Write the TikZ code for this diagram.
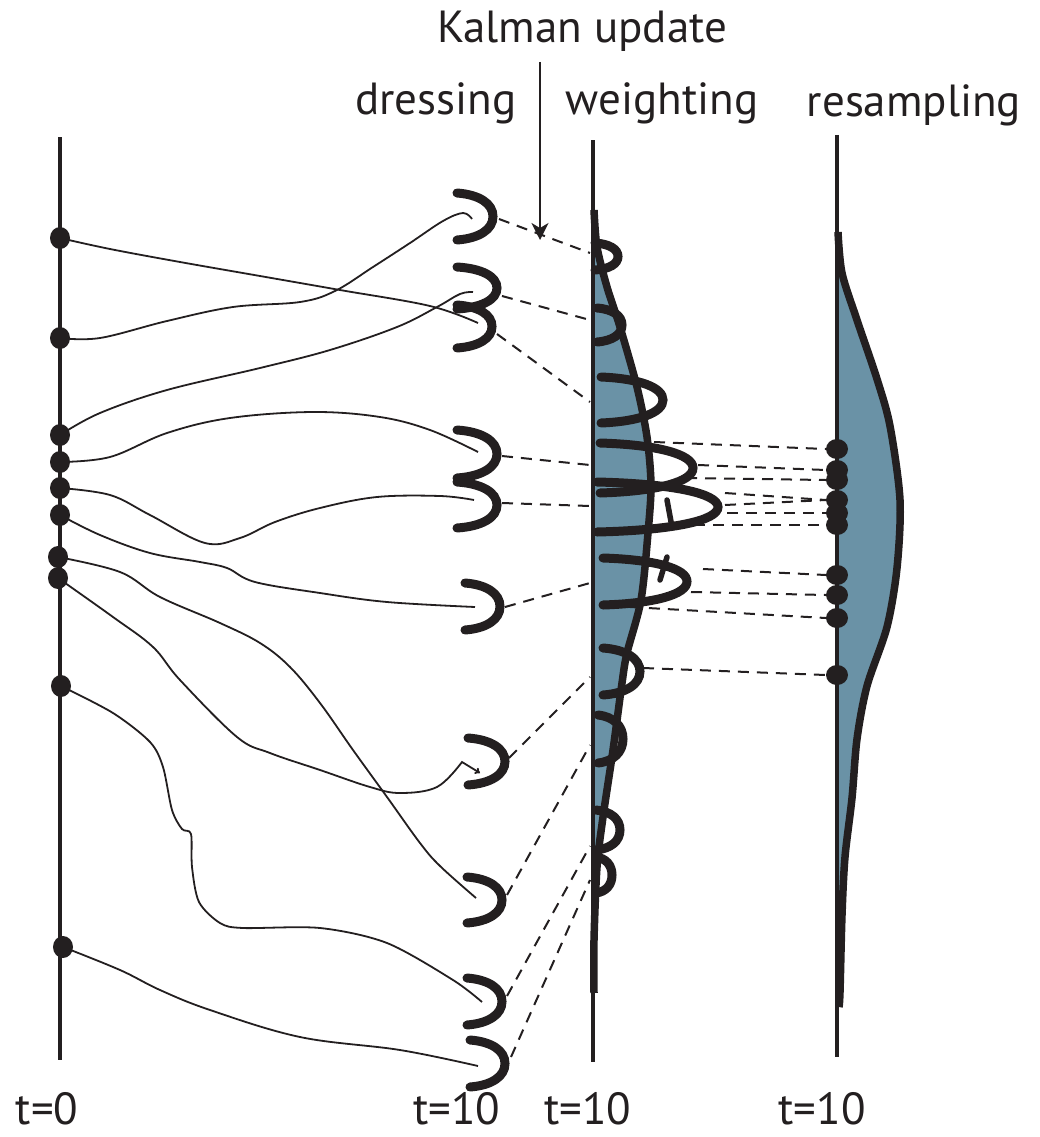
\documentclass[tikz,border=0pt]{standalone}
\usepackage{fontspec}
\setmainfont{PT Sans}
\usetikzlibrary{arrows.meta,shapes.geometric}
\definecolor{ink}{RGB}{35,31,32}
\definecolor{densc}{RGB}{106,146,166}
\begin{document}
\begin{tikzpicture}[x=1pt,y=-1pt,
  axisline/.style={draw=ink,line width=4.5pt},
  traj/.style={draw=ink,line width=1.8pt},
  kern/.style={draw=ink,line width=2pt,dash pattern=on 11pt off 8pt},
  hookline/.style={draw=ink,line width=9pt,line cap=round},
  curveline/.style={draw=ink,line width=7.5pt,line join=round},
  densfill/.style={fill=densc},
  dot/.style={ellipse,fill=ink,inner sep=0pt,minimum width=20pt,minimum height=22pt},
  rdot/.style={ellipse,fill=ink,inner sep=0pt,minimum width=22pt,minimum height=20pt},
  lbl/.style={font=\fontsize{45}{50}\selectfont,text=ink,inner sep=0pt,anchor=base},
  hk/.pic={\draw[hookline] (0,-1) .. controls (0.62,-0.93) and (1,-0.55) .. (1,0) .. controls (1,0.55) and (0.62,0.93) .. (0,1);}
]
\useasboundingbox (0,0) rectangle (1040,1137);

% ---------- labels
\node[lbl] (kal) at (582,43) {Kalman update};
\node[lbl] (dress) at (436,115) {dressing};
\node[lbl] (weight) at (662,115) {weighting};
\node[lbl] (resamp) at (914,117) {resampling};
\node[lbl] (t0) at (47,1124) {t=0};
\node[lbl] (t10a) at (457,1124) {t=10};
\node[lbl] (t10b) at (588,1124) {t=10};
\node[lbl] (t10c) at (822,1124) {t=10};

% ---------- densities
\path[densfill] (593,210) -- plot[smooth] coordinates {(594,210) (597,247) (607,287) (620,327) (637,387) (647,437) (651,485) (648,533) (641,600) (627,653) (622,683) (613,750) (603,817) (597,867) (594,940) (594,993)} -- (593,993) -- cycle;
\path[densfill] (837,232) -- plot[smooth] coordinates {(838,232) (842,273) (857,320) (877,379) (890,426) (900,500) (897,568) (887,627) (867,686) (857,739) (852,798) (845,857) (842,915) (840,992) (839,1007)} -- (837,1007) -- cycle;

% ---------- axes
\draw[axisline] (60,137) -- (60,1060);
\draw[axisline] (593,140) -- (593,1062);
\draw[axisline] (837,135) -- (837,1057);

% ---------- density outlines
\draw[curveline] plot[smooth] coordinates {(594,210) (597,247) (607,287) (620,327) (637,387) (647,437) (651,485) (648,533) (641,600) (627,653) (622,683) (613,750) (603,817) (597,867) (594,940) (594,993)};
\draw[curveline] plot[smooth] coordinates {(838,232) (842,273) (857,320) (877,379) (890,426) (900,500) (897,568) (887,627) (867,686) (857,739) (852,798) (845,857) (842,915) (840,992) (839,1007)};

% ---------- Kalman arrow
\coordinate (kA) at (540,62);
\coordinate (kB) at (540,240);
\draw[draw=ink,line width=1.6pt,-{Stealth[length=17pt,width=17pt,inset=5pt]}] (kA) -- (kB);

% ---------- dressing hooks
\pic[xscale=36,yscale=23.5] at (457,216.5) {hk};
\pic[xscale=40,yscale=21] at (457,288) {hk};
\pic[xscale=35,yscale=21.5] at (457,326.5) {hk};
\pic[xscale=40,yscale=24] at (457,454) {hk};
\pic[xscale=40,yscale=23] at (457,505) {hk};
\pic[xscale=35,yscale=23.5] at (465,606.5) {hk};
\pic[xscale=37,yscale=23.5] at (468,761.5) {hk};
\pic[xscale=35,yscale=23] at (467,900) {hk};
\pic[xscale=35,yscale=23.5] at (467,1001.5) {hk};
\pic[xscale=35,yscale=23.5] at (470,1063.5) {hk};

% ---------- weighted hooks
\pic[xscale=23,yscale=13.5] at (595,256.5) {hk};
\pic[xscale=25,yscale=17] at (597,325) {hk};
\pic[xscale=62,yscale=23] at (601,400) {hk};
\pic[xscale=93,yscale=25] at (600,468) {hk};
\pic[xscale=121,yscale=25] at (597,507) {hk};
\pic[xscale=84,yscale=23.5] at (603,581.5) {hk};
\pic[xscale=37,yscale=23.5] at (603,671.5) {hk};
\pic[xscale=25,yscale=24] at (598,739) {hk};
\pic[xscale=24,yscale=20] at (596,830) {hk};
\pic[xscale=16,yscale=18] at (596,875) {hk};
\draw[hookline,line width=5.5pt] (667,500) -- (672,527);
\draw[hookline,line width=5.5pt] (667,557) -- (660,580);

% ---------- dashed: dressing -> weighting
\coordinate (h1) at (499,219);  \coordinate (w1) at (590,253);
\coordinate (h2) at (502,296);  \coordinate (w2) at (590,320);
\coordinate (h3) at (497,334);  \coordinate (w3) at (590,402);
\coordinate (hA) at (502,456);  \coordinate (w4) at (590,465);
\coordinate (hB) at (502,503);  \coordinate (w5) at (590,506);
\coordinate (hC) at (505,607);  \coordinate (w6) at (590,583);
\coordinate (hD) at (509,758);  \coordinate (w7) at (590,677);
\coordinate (hE) at (507,895);  \coordinate (w8) at (590,745);
\coordinate (hF) at (507,996);  \coordinate (w9) at (590,846);
\coordinate (hG) at (511,1057); \coordinate (w10) at (590,880);
\foreach \a/\b in {h1/w1,h2/w2,h3/w3,hA/w4,hB/w5,hC/w6,hD/w7,hE/w8,hF/w9,hG/w10}
  \draw[kern] (\a) -- (\b);

% ---------- resampled particles
\node[rdot] (r1) at (837,449) {};
\node[rdot] (r2) at (837,470) {};
\node[rdot] (r3) at (837,480) {};
\node[rdot] (r4) at (837,500) {};
\node[rdot] (r5) at (837,513) {};
\node[rdot] (r6) at (837,525) {};
\node[rdot] (r7) at (837,575) {};
\node[rdot] (r8) at (837,595) {};
\node[rdot] (r9) at (837,618) {};
\node[rdot] (r10) at (837,675) {};

% ---------- dashed: weighting -> resampling
\coordinate (s1) at (654,442);
\coordinate (s2) at (698,465);
\coordinate (s3) at (686,478);
\coordinate (s4) at (725,493);
\coordinate (s5) at (725,505);
\coordinate (s6) at (708,513);
\coordinate (s7) at (675,525);
\coordinate (s8) at (703,569);
\coordinate (s9) at (691,592);
\coordinate (s10) at (630,607);
\coordinate (s11) at (643,668);
\foreach \a/\b in {s1/r1,s2/r2,s3/r3,s4/r4,s5/r4,s6/r5,s7/r6,s8/r7,s9/r8,s10/r9,s11/r10}
  \draw[kern] (\a) -- (\b.west);

% ---------- initial particles
\node[dot] (p1) at (60,238) {};
\node[dot] (p2) at (60,338) {};
\node[dot] (p3) at (60,435) {};
\node[dot] (p4) at (60,462) {};
\node[dot] (p5) at (60,488) {};
\node[dot] (p6) at (60,515) {};
\node[dot] (p7) at (58,557) {};
\node[dot] (p8) at (58,578) {};
\node[dot] (p9) at (61,686) {};
\node[dot] (p10) at (63,947) {};

% ---------- trajectories
\draw[traj] plot[smooth,tension=0.6] coordinates {(p1) (110,249) (180,262) (260,276) (340,290) (430,306) (478,323)};
\draw[traj] plot[smooth,tension=0.6] coordinates {(p2) (100,338) (167,321) (233,307) (300,302) (335,291) (373,267) (410,243) (443,221) (463,213) (472,219)};
\draw[traj] plot[smooth,tension=0.6] coordinates {(p3) (100,413) (167,390) (260,368) (330,350) (397,327) (437,307) (460,294) (473,292)};
\draw[traj] plot[smooth,tension=0.6] coordinates {(p4) (110,457) (167,433) (230,418) (313,412) (380,417) (430,430) (478,452)};
\draw[traj] plot[smooth,tension=0.6] coordinates {(p5) (110,495) (150,515) (205,543) (240,538) (275,522) (320,508) (377,497) (440,496) (474,500)};
\draw[traj] plot[smooth,tension=0.6] coordinates {(p6) (100,535) (150,553) (200,562) (227,568) (255,582) (320,593) (387,602) (475,607)};
\draw[traj] plot[smooth,tension=0.6] coordinates {(p7) (120,572) (160,597) (220,623) (260,643) (290,667) (320,703) (353,750) (387,797) (420,843) (440,866) (476,898)};
\draw[traj,-{To[length=5pt,width=7pt]}] plot[smooth,tension=0.6] coordinates {(p8) (113,617) (153,647) (180,680) (237,737) (270,753) (320,770) (370,787) (400,793) (437,787) (462,762)} -- (480,773);
\draw[traj] plot[smooth,tension=0.5] coordinates {(p9) (113,713) (150,742) (163,767) (172,810) (182,829) (191,834) (192,867) (199,902) (220,923) (243,928) (320,928) (387,943) (453,980) (482,1002)};
\draw[traj] plot[smooth,tension=0.6] coordinates {(p10) (120,970) (160,990) (210,1010) (300,1037) (400,1050) (478,1066)};
\end{tikzpicture}
\end{document}
